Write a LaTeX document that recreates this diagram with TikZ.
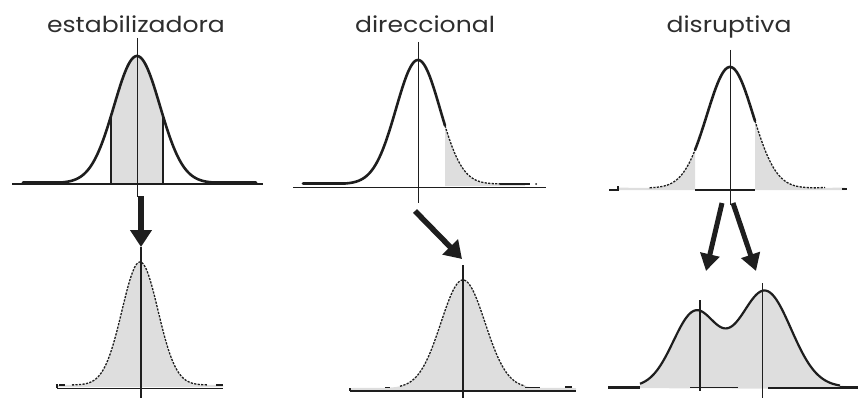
\documentclass[tikz,border=0pt]{standalone}
\usepackage{fontspec}
\setmainfont{Poppins}
\usetikzlibrary{arrows.meta}
\definecolor{ink}{HTML}{1E1E1E}
\definecolor{shade}{HTML}{DEDEDE}
\definecolor{txt}{HTML}{2E2E2E}
\begin{document}
\begin{tikzpicture}[x=1pt,y=-1pt,
  declare function={
    G(\a,\b,\c)=exp(-min(9,0.5*((\c-\a)/\b)^2));
    fa(\c)=183-127*G(137,23,\c);
    fb(\c)=184-124*G(418,22,\c);
    fc(\c)=188-121*G(730,23,\c);
    fd(\c)=385-123*G(140,18,\c);
    fe(\c)=388-108*G(463,22,\c);
    ff(\c)=387-74*G(695,22,\c)-96*G(765,26,\c);
  },
  title/.style={font=\fontsize{22}{22}\selectfont, text=txt, anchor=base, inner sep=0pt, xscale=1.14},
  boldcurve/.style={draw=ink, line width=2.6pt, line join=round, line cap=round},
  finecurve/.style={draw=ink, line width=1.3pt, dash pattern=on 2.2pt off 1.3pt},
  axisline/.style={draw=ink, line width=1pt},
  fillarea/.style={fill=shade, draw=none},
  bigarrow/.style={draw=ink, line width=5.5pt, -{Triangle[length=17pt,width=21pt]}},
]
\useasboundingbox (0,0) rectangle (858,398);

% ---------- titles ----------
\node[title] (t1) at (136,33) {estabilizadora};
\node[title] (t2) at (425,33) {direccional};
\node[title] (t3) at (729,33) {disruptiva};

% ---------- panel 1 top (stabilizing) ----------
\fill[fillarea] (111,184) -- plot[domain=111:163,samples=50] (\x,{fa(\x)}) -- (163,184) -- cycle;
\draw[draw=ink, line width=1.5pt] (12,184) -- (263,184);
\draw[boldcurve] (23,182.5) -- (60,182.5) -- plot[domain=60:214,samples=120] (\x,{fa(\x)}) -- (256,182.5);
\draw[draw=ink, line width=2pt] (111,{fa(111)}) -- (111,184);
\draw[draw=ink, line width=2pt] (163,{fa(163)}) -- (163,184);
\draw[axisline] (137,38) -- (137,197);

% ---------- panel 2 top (directional) ----------
\fill[fillarea] (445,186) -- plot[domain=445:525,samples=50] (\x,{fb(\x)}) -- (525,186) -- cycle;
\draw[axisline] (293,187) -- (546,187);
\draw[boldcurve] (303,183.5) -- (345,183.5) -- plot[domain=345:445,samples=90] (\x,{fb(\x)});
\draw[finecurve] plot[domain=445:500,samples=50] (\x,{fb(\x)});
\draw[draw=ink, line width=2pt] (500,183.5) -- (530,183.5);
\fill[ink] (536,184) circle (1pt);
\draw[axisline] (418,42) -- (418,203);

% ---------- panel 3 top (disruptive) ----------
\fill[fillarea] (617,190) -- (617,187.5) -- plot[domain=638:695,samples=50] (\x,{fc(\x)}) -- (695,190) -- cycle;
\fill[fillarea] (755,190) -- plot[domain=755:822,samples=50] (\x,{fc(\x)}) -- (845,187.5) -- (845,190) -- cycle;
\draw[finecurve] (650,187.5) -- plot[domain=650:695,samples=50] (\x,{fc(\x)});
\draw[finecurve] plot[domain=755:815,samples=50] (\x,{fc(\x)}) -- (825,187.5);
\draw[boldcurve] plot[domain=695:755,samples=60] (\x,{fc(\x)});
\draw[draw=ink, line width=1.5pt] (695,190) -- (755,190);
\draw[draw=ink, line width=1.5pt] (609,190) -- (618,190) -- (618,186);
\draw[draw=ink, line width=2pt] (842,189) -- (847,189);
\draw[axisline] (730,50) -- (730,205);

% ---------- arrows ----------
\coordinate (a1s) at (141,196);
\coordinate (a1e) at (141,247);
\draw[bigarrow] (a1s) -- (a1e);
\coordinate (a2s) at (415,211);
\coordinate (a2e) at (462,259);
\draw[bigarrow] (a2s) -- (a2e);
\coordinate (a3s) at (722,203);
\coordinate (a3e) at (706,271);
\draw[bigarrow, line width=5pt, -{Triangle[length=17pt,width=19pt]}] (a3s) -- (a3e);
\coordinate (a4s) at (733,203);
\coordinate (a4e) at (756,271);
\draw[bigarrow, line width=5pt, -{Triangle[length=17pt,width=19pt]}] (a4s) -- (a4e);

% ---------- panel 1 bottom ----------
\fill[fillarea] (57,387) -- (57,385) -- plot[domain=64:216,samples=100] (\x,{fd(\x)}) -- (223,385) -- (223,387) -- cycle;
\draw[finecurve] plot[domain=72:208,samples=100] (\x,{fd(\x)});
\draw[axisline] (57,388) -- (223,388);
\draw[draw=ink, line width=2pt] (57,388) -- (57,384) (59,385) -- (65,385);
\draw[draw=ink, line width=2pt] (216,384.5) -- (223,384.5);
\draw[draw=ink, line width=2.8pt] (141,247) -- (141,398);

% ---------- panel 2 bottom ----------
\fill[fillarea] (350,390) -- (350,388) -- plot[domain=375:551,samples=100] (\x,{fe(\x)}) -- (576,388) -- (576,390) -- cycle;
\draw[finecurve] plot[domain=400:525,samples=100] (\x,{fe(\x)});
\draw[draw=ink, line width=1.2pt] (350,391) -- (576,391);
\draw[draw=ink, line width=1.5pt] (350,388) -- (350,391) (385,387.5) -- (390,387.5) (525,387.5) -- (540,387.5);
\draw[draw=ink, line width=2pt] (565,387) -- (572,387);
\draw[draw=ink, line width=1.4pt] (463,265) -- (463,398);

% ---------- panel 3 bottom ----------
\fill[fillarea] (608,388) -- (640,387) -- plot[domain=640:840,samples=150] (\x,{ff(\x)}) -- (858,387) -- (858,389) -- cycle;
\draw[draw=ink, line width=2.2pt, line join=round] plot[domain=640:840,samples=150] (\x,{ff(\x)});
\draw[draw=ink, line width=3pt] (608,387.5) -- (640,387.5);
\draw[draw=ink, line width=2.5pt] (840,387.5) -- (858,387.5);
\draw[draw=ink, line width=1.5pt] (690,387.5) -- (738,387.5) (768,388) -- (840,388);
\draw[draw=ink, line width=2.5pt] (700,300) -- (700,391);
\draw[axisline] (762,283) -- (762,398);
\end{tikzpicture}
\end{document}
